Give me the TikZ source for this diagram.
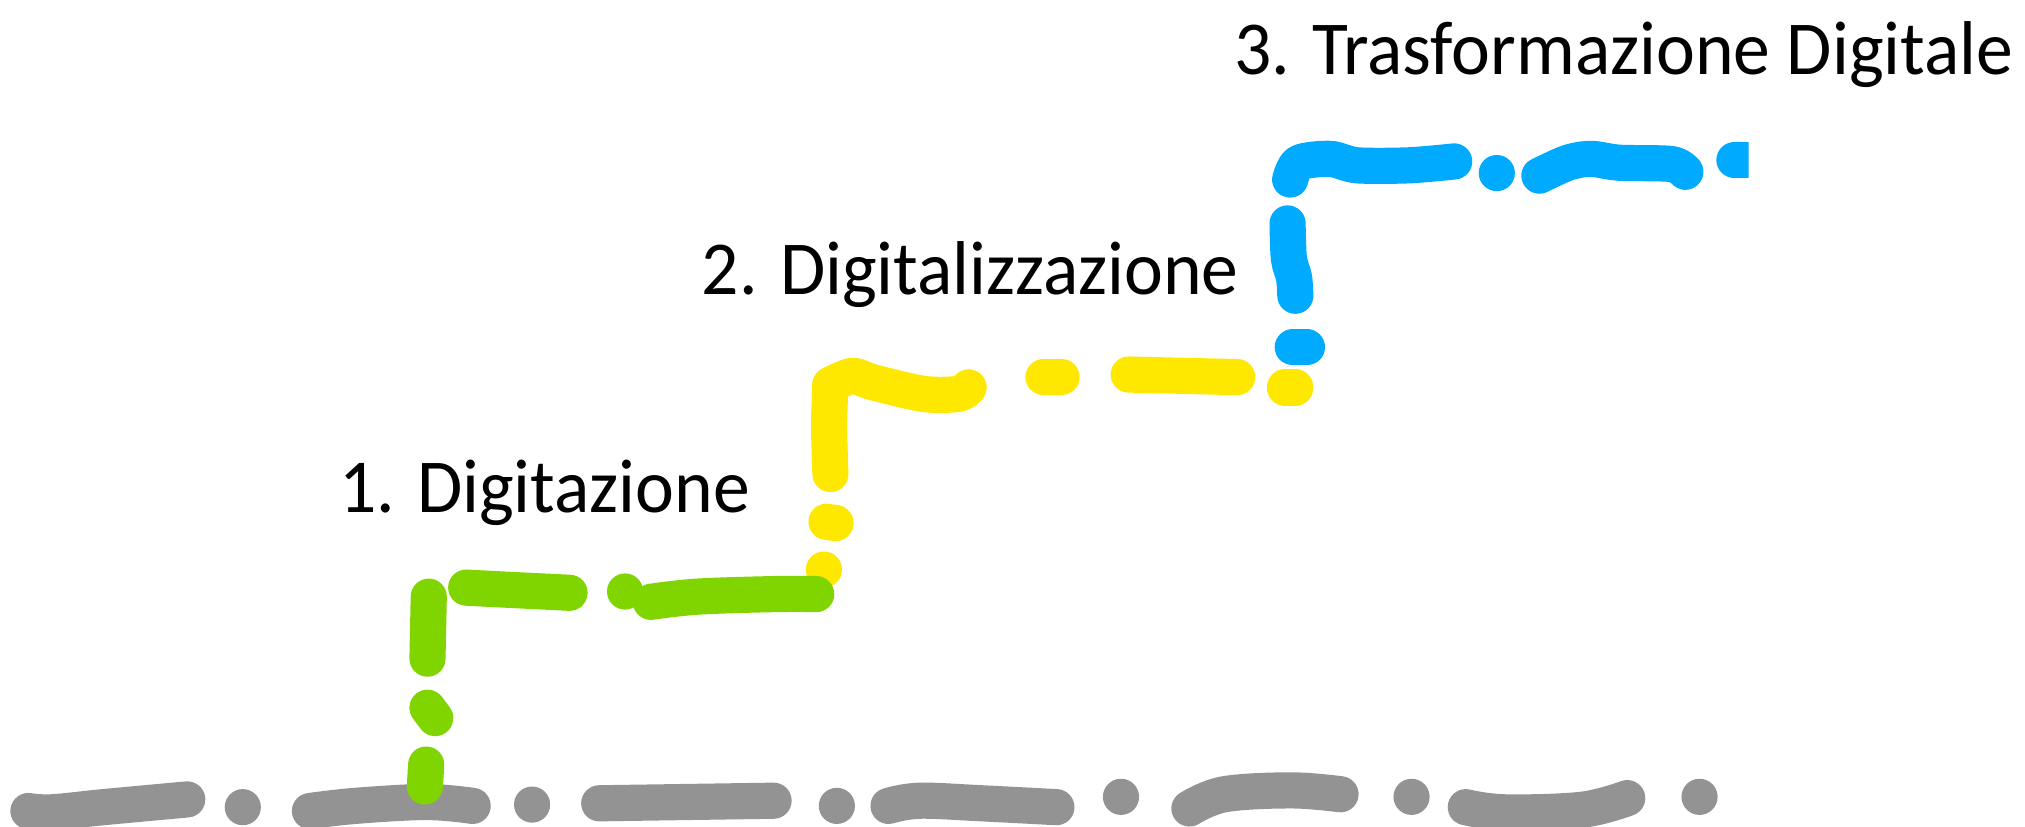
\documentclass[tikz,border=0pt]{standalone}
\usepackage{fontspec}
\setmainfont[FakeStretch=0.965]{Carlito}
\definecolor{sgray}{RGB}{147,147,147}
\definecolor{sgreen}{RGB}{128,212,0}
\definecolor{syellow}{RGB}{255,232,0}
\definecolor{sblue}{RGB}{0,170,255}
\begin{document}
\begin{tikzpicture}[x=0.0125cm, y=-0.0125cm,
  stroke/.style={line width=0.35cm, line cap=round, line join=round},
  blob/.style={radius=0.175cm},
  lbl/.style={anchor=base west, inner sep=0pt, font=\fontsize{21}{25}\selectfont}]
\useasboundingbox (0,0) rectangle (1568,640);
% gray baseline
\begin{scope}[sgray]
\draw[stroke] plot[smooth, tension=0.6] coordinates {(22,628) (40,629) (80,625) (145,619)};
\fill (188,625) circle [blob];
\draw[stroke] plot[smooth, tension=0.6] coordinates {(240,628) (275,624) (330,621) (366,624)};
\fill (412,623) circle [blob];
\draw[stroke] (464,622) -- (599,620);
\fill (648,624) circle [blob];
\draw[stroke] plot[smooth, tension=0.6] coordinates {(688,624) (712,620) (760,622) (818,625)};
\fill (868,617) circle [blob];
\draw[stroke] plot[smooth, tension=0.6] coordinates {(921,626) (948,615) (1000,612) (1038,615)};
\fill (1093,617) circle [blob];
\draw[stroke] plot[smooth, tension=0.6] coordinates {(1135,625) (1165,629) (1225,627) (1260,618)};
\fill (1316,617) circle [blob];
\end{scope}
% yellow blob under green
\fill[syellow] (638,441) circle [blob];
% green
\begin{scope}[sgreen]
\draw[stroke] (332,462) -- (331,510);
\draw[stroke] (331,548) -- (337,556);
\draw[stroke] (330,592) -- (329,609);
\draw[stroke] plot[smooth, tension=0.6] coordinates {(361,455) (400,457) (441,459)};
\fill (484,458) circle [blob];
\draw[stroke] plot[smooth, tension=0.6] coordinates {(504,466) (540,462) (600,460) (632,460)};
\end{scope}
% yellow
\begin{scope}[syellow]
\draw[stroke] (640,404) -- (647,405);
\draw[stroke] plot[smooth, tension=0.5] coordinates {(643,367) (642,330) (643,298)};
\draw[stroke] plot[smooth, tension=0.5] coordinates {(643,298) (660,291) (676,296) (715,305) (742,305) (750,300)};
\draw[stroke] (808,292) -- (822,292);
\draw[stroke] (874,290) -- (958,292);
\draw[stroke] (995,300) -- (1003,300);
\end{scope}
% blue
\begin{scope}[sblue]
\draw[stroke] (1001,269) -- (1012,269);
\draw[stroke] plot[smooth, tension=0.5] coordinates {(997,173) (998,200) (1002,215) (1003,229)};
\draw[stroke] plot[smooth, tension=0.5] coordinates {(999,139) (1006,126) (1030,123) (1051,128) (1091,128) (1126,125)};
\fill (1159,134) circle [blob];
\draw[stroke] plot[smooth, tension=0.5] coordinates {(1192,136) (1214,126) (1232,123) (1254,126) (1294,127) (1305,133)};
\begin{scope}
\clip (1300,100) rectangle (1354,150);
\draw[stroke] (1343,124) -- (1380,124);
\end{scope}
\end{scope}
% labels
\node[lbl] (t1) at (262,397) {1. Digitazione};
\node[lbl] (t2) at (543,228) {2. Digitalizzazione};
\node[lbl] (t3) at (955,58) {3. Trasformazione Digitale};
\end{tikzpicture}
\end{document}
